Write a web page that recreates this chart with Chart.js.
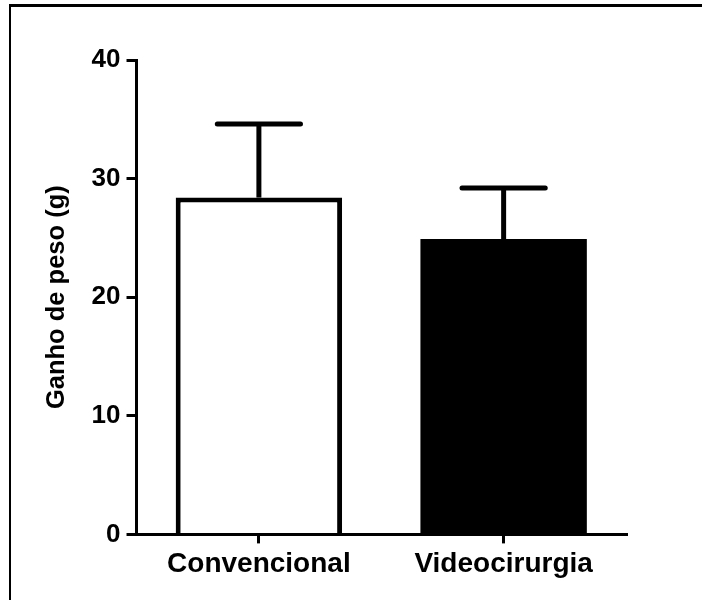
<!DOCTYPE html>
<html>
<head>
<meta charset="utf-8">
<script src="https://cdn.jsdelivr.net/npm/chart.js@4.4.0/dist/chart.umd.min.js"></script>
<style>
  body { margin: 0; background: #fff; }
  #wrap { position: relative; width: 702px; height: 600px; }
  #frame { position: absolute; left: 9px; top: 4px; right: 0; bottom: 0; border-top: 3px solid #000; border-left: 2px solid #000; pointer-events: none; }
  canvas { position: absolute; left: 0; top: 0; }
</style>
</head>
<body>
<div id="wrap">
  <canvas id="myChart" width="702" height="600"></canvas>
  <div id="frame"></div>
</div>
<script>
var groups = ['Convencional', 'Videocirurgia'];
var means = [28.4, 24.9];
var errors = [6.2, 4.3];
var barColors = ['#ffffff', '#000000'];
var yTicks = [0, 10, 20, 30, 40];

// draws only the upper half of each error bar, like the original
var errorBars = {
  id: 'errorBars',
  afterDatasetsDraw: function(chart) {
    var ctx = chart.ctx;
    var meta = chart.getDatasetMeta(0);
    var y = chart.scales.y;
    ctx.save();
    ctx.strokeStyle = '#000';
    ctx.lineWidth = 5;
    for (var i = 0; i < meta.data.length; i++) {
      var bar = meta.data[i];
      var top = y.getPixelForValue(means[i] + errors[i]);
      var base = y.getPixelForValue(means[i]);
      var half = bar.width / 4;
      ctx.beginPath();
      ctx.moveTo(bar.x, base);
      ctx.lineTo(bar.x, top);
      ctx.stroke();
      ctx.lineCap = 'round';
      ctx.beginPath();
      ctx.moveTo(bar.x - half, top);
      ctx.lineTo(bar.x + half, top);
      ctx.stroke();
      ctx.lineCap = 'butt';
    }
    ctx.restore();
  }
};

var font = "'Liberation Sans', Arial, sans-serif";
var ctx = document.getElementById('myChart').getContext('2d');
var myChart = new Chart(ctx, {
  type: 'bar',
  data: {
    labels: groups,
    datasets: [{
      data: means,
      backgroundColor: barColors,
      borderColor: '#000',
      borderWidth: [5, 0],
      categoryPercentage: 1,
      barPercentage: 0.68
    }]
  },
  options: {
    responsive: false,
    animation: false,
    layout: { padding: { left: 42, right: 76, top: 60, bottom: 15 } },
    plugins: { legend: { display: false }, tooltip: { enabled: false } },
    scales: {
      x: {
        border: { color: '#000', width: 3 },
        grid: { drawOnChartArea: false, offset: false, color: '#000', lineWidth: 3, tickLength: 9 },
        ticks: { color: '#000', padding: 4, font: { family: font, size: 28, weight: 'bold' } }
      },
      y: {
        min: 0,
        max: 40,
        afterBuildTicks: function(scale) {
          scale.ticks = yTicks.map(function(v) { return { value: v }; });
        },
        border: { color: '#000', width: 3 },
        grid: { drawOnChartArea: false, color: '#000', lineWidth: 3, tickLength: 10 },
        ticks: { color: '#000', padding: 6, font: { family: font, size: 26, weight: 'bold' } },
        title: {
          display: true,
          text: 'Ganho de peso (g)',
          color: '#000',
          padding: { top: 0, bottom: 13 },
          font: { family: font, size: 25.5, weight: 'bold' }
        }
      }
    }
  },
  plugins: [errorBars]
});
</script>
</body>
</html>
